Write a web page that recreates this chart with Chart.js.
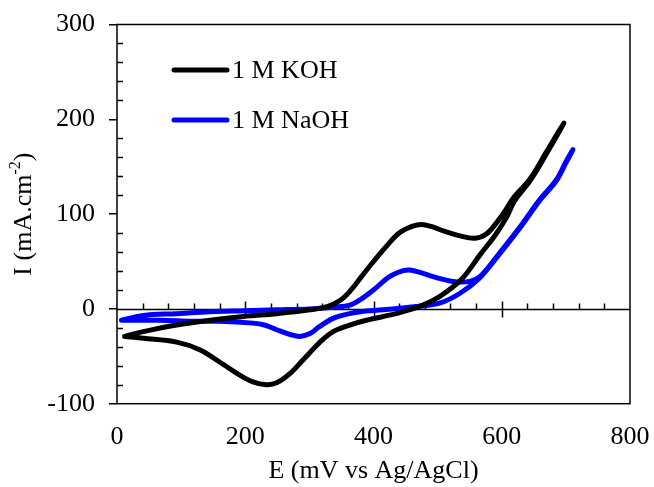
<!DOCTYPE html>
<html>
<head>
<meta charset="utf-8">
<script src="https://cdn.jsdelivr.net/npm/chart.js@4/dist/chart.umd.min.js"></script>
<style>
  html, body { margin: 0; padding: 0; background: #fff; }
  #wrap { width: 654px; height: 487px; }
</style>
</head>
<body>
<div id="wrap"><canvas id="c" width="654" height="487"></canvas></div>
<script>
// ---- Data ----
const seriesNames = ['1 M KOH', '1 M NaOH'];
const seriesColors = ['#000000', '#0000FF'];

// 1 M KOH cyclic voltammogram (E in mV, I in mA.cm-2)
const kohE = [12, 41, 93, 145, 197, 249, 301, 330, 350, 365, 380, 400, 420, 440, 460, 475, 490, 510, 535, 558, 576, 592, 605, 618, 644, 670, 697,
              670, 644, 620, 607, 590, 566, 537, 503, 477, 441, 389, 363, 337, 315, 301, 290, 270, 249, 233, 212, 187, 160, 129, 93, 41, 12];
const kohI = [-29, -24, -17, -12, -8, -5, -1, 3, 10, 20, 33, 50, 66, 80, 87, 89, 87, 82, 77, 74.5, 79, 91, 103, 117, 137, 166, 196,
              164, 135, 114, 96, 78, 57, 31, 13, 4, -4, -12, -17, -24, -36, -46, -54, -68, -78, -80, -77, -68, -56, -43, -35, -31, -29];

// 1 M NaOH cyclic voltammogram
const naohE = [7, 41, 93, 145, 200, 250, 300, 340, 363, 380, 400, 425, 445, 457, 475, 493, 524, 550, 566, 592, 628, 659, 685, 700, 711,
               700, 685, 659, 628, 592, 566, 535, 503, 467, 415, 380, 363, 337, 315, 301, 285, 270, 249, 230, 212, 160, 119, 67, 7];
const naohI = [-12, -7, -5, -3, -2, -1, 0, 2, 4, 10, 20, 34, 40, 41, 38, 34, 29, 29, 34, 55, 86, 115, 136, 155, 168,
               154, 135, 114, 85, 54, 33, 16.5, 6, 2.5, -1, -3, -5, -10, -19, -26, -29, -27, -22, -17, -15, -13, -13, -12, -12];

const xMin = 0, xMax = 800, xStep = 200, xMinorStep = 40;
const yMin = -100, yMax = 300, yStep = 100, yMinorStep = 20;
const xTitle = 'E (mV vs Ag/AgCl)';
const yTitleMain = 'I (mA.cm';
const yTitleSup = '-2';
const yTitleEnd = ')';

function toPoints(xs, ys) { return xs.map((x, i) => ({ x: x, y: ys[i] })); }

const FONT = '"Liberation Serif", "Times New Roman", serif';

const decorPlugin = {
  id: 'decor',
  beforeDatasetsDraw(chart) {
    const { ctx, chartArea: a, scales: { x, y } } = chart;
    ctx.save();
    ctx.strokeStyle = '#000';
    ctx.lineWidth = 1.5;
    // frame
    ctx.strokeRect(a.left, a.top, a.right - a.left, a.bottom - a.top);
    // minor ticks on y axis (inside)
    for (let v = yMin + yMinorStep; v < yMax; v += yMinorStep) {
      if (v % yStep === 0) continue;
      const py = Math.round(y.getPixelForValue(v)) + 0.5;
      ctx.beginPath(); ctx.moveTo(a.left, py); ctx.lineTo(a.left + 6, py); ctx.stroke();
    }
    // zero line
    const y0 = Math.round(y.getPixelForValue(0)) + 0.5;
    ctx.beginPath(); ctx.moveTo(a.left, y0); ctx.lineTo(a.right, y0); ctx.stroke();
    for (let v = xMin + xMinorStep; v < xMax; v += xMinorStep) {
      const px = Math.round(x.getPixelForValue(v)) + 0.5;
      ctx.beginPath();
      if (v % xStep === 0) { ctx.moveTo(px, y0 - 8); ctx.lineTo(px, y0 + 8); }
      else { ctx.moveTo(px, y0 - 6); ctx.lineTo(px, y0); }
      ctx.stroke();
    }
    ctx.restore();
  },
  afterDraw(chart) {
    const { ctx, chartArea: a } = chart;
    ctx.save();
    // legend
    const legY = [70, 120];
    seriesNames.forEach((name, i) => {
      ctx.strokeStyle = seriesColors[i];
      ctx.lineWidth = 5;
      ctx.lineCap = 'round';
      ctx.beginPath(); ctx.moveTo(174, legY[i]); ctx.lineTo(227, legY[i]); ctx.stroke();
      ctx.fillStyle = '#000';
      ctx.font = '26px ' + FONT;
      ctx.textBaseline = 'middle';
      ctx.textAlign = 'left';
      ctx.fillText(name, 232, legY[i] + 1);
    });
    // y title (rotated, with superscript)
    ctx.translate(24, (a.top + a.bottom) / 2);
    ctx.rotate(-Math.PI / 2);
    ctx.fillStyle = '#000';
    ctx.textBaseline = 'middle';
    ctx.textAlign = 'left';
    ctx.font = '26px ' + FONT;
    const w1 = ctx.measureText(yTitleMain).width;
    const w3 = ctx.measureText(yTitleEnd).width;
    ctx.font = '16px ' + FONT;
    const w2 = ctx.measureText(yTitleSup).width;
    let sx = -(w1 + w2 + w3) / 2;
    ctx.font = '26px ' + FONT;
    ctx.fillText(yTitleMain, sx, 0);
    sx += w1;
    ctx.font = '16px ' + FONT;
    ctx.fillText(yTitleSup, sx, -8);
    sx += w2;
    ctx.font = '26px ' + FONT;
    ctx.fillText(yTitleEnd, sx, 0);
    ctx.restore();
  }
};

new Chart(document.getElementById('c'), {
  type: 'scatter',
  data: {
    datasets: [
      { label: seriesNames[0], data: toPoints(kohE, kohI), showLine: true, borderColor: seriesColors[0], backgroundColor: seriesColors[0],
        borderWidth: 5, pointRadius: 0, tension: 0.35, borderCapStyle: 'round', borderJoinStyle: 'round' },
      { label: seriesNames[1], data: toPoints(naohE, naohI), showLine: true, borderColor: seriesColors[1], backgroundColor: seriesColors[1],
        borderWidth: 5, pointRadius: 0, tension: 0.35, borderCapStyle: 'round', borderJoinStyle: 'round' }
    ]
  },
  options: {
    responsive: false,
    animation: false,
    devicePixelRatio: 1,
    layout: { padding: { top: 24.5, right: 24, left: 0, bottom: 0 } },
    plugins: { legend: { display: false }, tooltip: { enabled: false } },
    scales: {
      x: {
        type: 'linear', min: xMin, max: xMax,
        grid: { display: false, drawTicks: false },
        border: { display: false },
        ticks: { stepSize: xStep, padding: 18, color: '#000', font: { family: FONT, size: 26 }, maxRotation: 0 },
        title: { display: true, text: xTitle, color: '#000', font: { family: FONT, size: 26 }, padding: { top: 0, bottom: 0 } },
        afterFit(scale) { scale.height = 83.3; scale.paddingLeft = 0; scale.paddingRight = 0; }
      },
      y: {
        type: 'linear', min: yMin, max: yMax,
        grid: { display: true, drawOnChartArea: false, drawTicks: true, tickLength: 8, color: '#000', lineWidth: 1.5 },
        border: { display: false },
        ticks: { stepSize: yStep, padding: 14, color: '#000', font: { family: FONT, size: 26 } },
        afterFit(scale) { scale.width = 117; scale.paddingTop = 0; scale.paddingBottom = 0; }
      }
    }
  },
  plugins: [decorPlugin]
});
</script>
</body>
</html>
